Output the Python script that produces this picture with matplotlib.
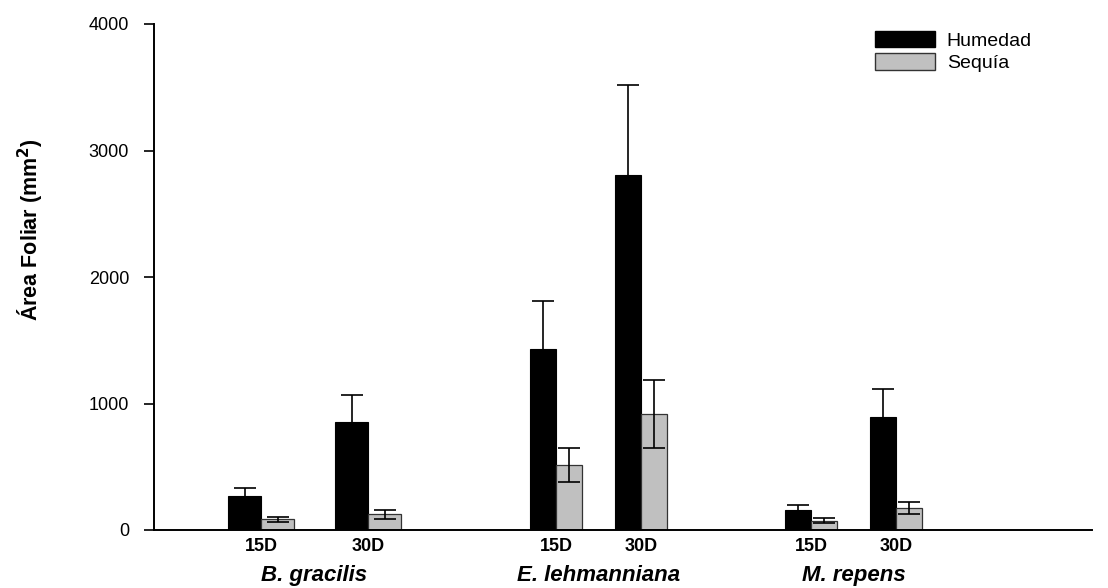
import numpy as np
import matplotlib
matplotlib.use("Agg")
import matplotlib.pyplot as plt
from matplotlib.patches import Patch

plt.rcParams["font.family"] = ["Liberation Sans", "DejaVu Sans"]

species = ["B. gracilis", "E. lehmanniana", "M. repens"]
days = ["15D", "30D"]
humedad = [269, 854, 1431, 2810, 158, 893]
humedad_err = [63, 213, 380, 705, 40, 222]
sequia = [85, 125, 514, 917, 75, 174]
sequia_err = [18, 35, 138, 270, 22, 47]

# layout (x in units of 100 px from the y axis)
pair_centers = np.array([1.07, 2.14, 4.02, 4.87, 6.57, 7.42])
bar_w = np.array([0.33, 0.33, 0.26, 0.26, 0.26, 0.26])

fig = plt.figure(figsize=(11.08, 5.88), dpi=100)
ax = fig.add_axes([154/1108, 1-530/588, (1092-154)/1108, (530-24)/588])

# humedad bars cover the lower half of their error bars
ax.errorbar(pair_centers - bar_w/2, humedad, yerr=humedad_err, fmt="none",
            ecolor="black", elinewidth=1.2, capsize=8, capthick=1.2, zorder=1)
ax.bar(pair_centers - bar_w/2, humedad, width=bar_w, color="black", edgecolor="black", linewidth=0.8, zorder=2)
ax.bar(pair_centers + bar_w/2, sequia, width=bar_w, color="#c0c0c0", edgecolor="#333333", linewidth=0.9, zorder=2)
ax.errorbar(pair_centers + bar_w/2, sequia, yerr=sequia_err, fmt="none",
            ecolor="black", elinewidth=1.2, capsize=8, capthick=1.2, zorder=3)

ax.set_xlim(0, 9.38)
ax.set_ylim(0, 4000)
ax.set_yticks([0, 1000, 2000, 3000, 4000])
ax.set_xticks([])
ax.tick_params(axis="y", direction="out", length=7, width=1.2, labelsize=13, pad=11)
for s in ["top", "right"]:
    ax.spines[s].set_visible(False)
ax.spines["left"].set_linewidth(1.4)
ax.spines["bottom"].set_linewidth(1.4)

for i, c in enumerate(pair_centers):
    ax.text(c, -0.032, days[i % 2], transform=ax.get_xaxis_transform(), ha="center", va="center",
            fontsize=13, fontweight="bold")
for g, name in enumerate(species):
    gc = (pair_centers[2*g] + pair_centers[2*g+1]) / 2
    ax.text(gc, -0.089, name, transform=ax.get_xaxis_transform(), ha="center", va="center",
            fontsize=16, fontweight="bold", fontstyle="italic")

fig.text(30/1108, 1-230/588, "Área Foliar (mm$^\\mathbf{2}$)", rotation=90, ha="center", va="center",
         fontsize=15.5, fontweight="bold")

handles = [Patch(facecolor="black", edgecolor="black"), Patch(facecolor="#c0c0c0", edgecolor="#333333")]
ax.legend(handles, ["Humedad", "Sequía"], loc="upper left", bbox_to_anchor=(867/1108, 1-23/588),
          bbox_transform=fig.transFigure, frameon=False, fontsize=14, handlelength=3.1,
          handleheight=0.9, handletextpad=0.6, labelspacing=0.2, borderaxespad=0)

fig.savefig("out.png", dpi=100)
